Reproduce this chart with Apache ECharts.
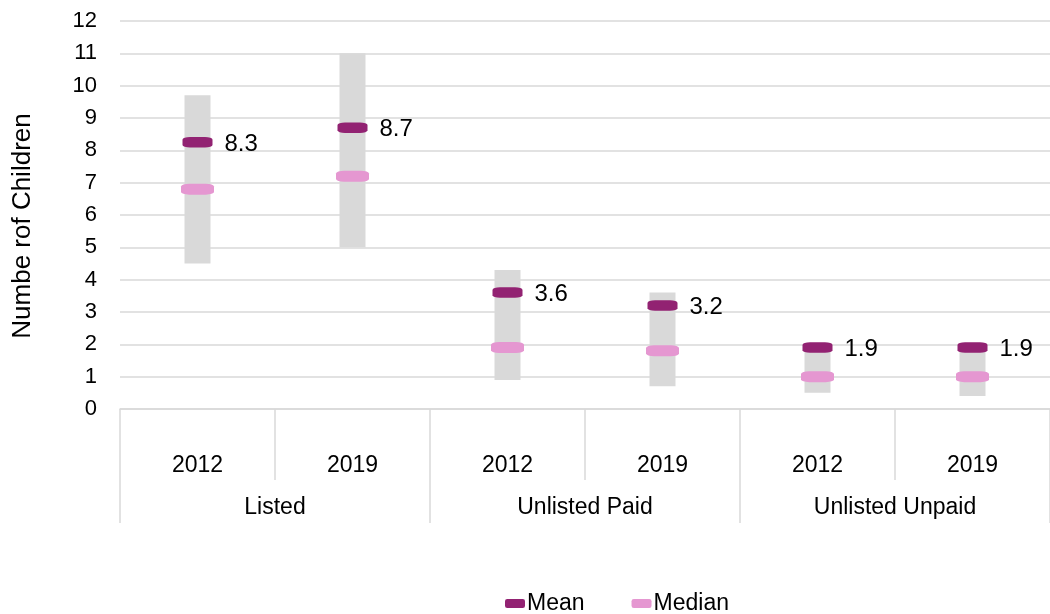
<!DOCTYPE html>
<html>
<head>
<meta charset="utf-8">
<script src="https://cdn.jsdelivr.net/npm/echarts@6/dist/echarts.min.js"></script>
<style>
  html, body { margin: 0; padding: 0; background: #fff; }
  #chart { width: 1050px; height: 614px; }
</style>
</head>
<body>
<div id="chart"></div>
<script>
const years = ['2012', '2019', '2012', '2019', '2012', '2019'];
const groups = ['Listed', 'Unlisted Paid', 'Unlisted Unpaid'];
const rangeLow = [4.5, 5.0, 0.9, 0.7, 0.5, 0.4];
const rangeHigh = [9.7, 11.0, 4.3, 3.6, 1.9, 1.9];
const meanValues = [8.25, 8.7, 3.6, 3.2, 1.9, 1.9];
const medianValues = [6.8, 7.2, 1.9, 1.8, 1.0, 1.0];

const chart = echarts.init(document.getElementById('chart'));
const font = 'Liberation Sans, Arial, sans-serif';
const lineGrey = '#d9d9d9';

const rangeSpan = rangeHigh.map((h, i) => +(h - rangeLow[i]).toFixed(2));

const option = {
  animation: false,
  textStyle: { fontFamily: font },
  grid: { left: 120, right: -7, top: 21, bottom: 205 },
  legend: {
    data: ['Mean', 'Median'],
    top: 587,
    left: 500,
    icon: 'roundRect',
    itemWidth: 20,
    itemHeight: 9,
    itemGap: 47,
    textStyle: { fontSize: 23, color: '#000', fontFamily: font, padding: [0, 0, 0, -3] }
  },
  xAxis: [
    {
      type: 'category',
      data: years,
      position: 'bottom',
      axisLine: { lineStyle: { color: lineGrey, width: 1.5 } },
      axisTick: { show: true, length: 71, interval: 0, lineStyle: { color: lineGrey, width: 1.5 } },
      axisLabel: { margin: 45, fontSize: 23, color: '#000', fontFamily: font, interval: 0 }
    },
    {
      type: 'category',
      data: groups,
      position: 'bottom',
      axisLine: { show: false },
      axisTick: { show: true, length: 114, interval: 0, lineStyle: { color: lineGrey, width: 1.5 } },
      axisLabel: { margin: 87, fontSize: 23, color: '#000', fontFamily: font, interval: 0 }
    }
  ],
  yAxis: {
    type: 'value',
    min: 0,
    max: 12,
    interval: 1,
    name: 'Numbe rof Children',
    nameLocation: 'middle',
    nameRotate: 90,
    nameGap: 84,
    nameTextStyle: { fontSize: 26, color: '#000', fontFamily: font, padding: [0, 22, 0, 0] },
    axisLine: { show: false },
    axisTick: { show: false },
    axisLabel: { margin: 23, fontSize: 22, color: '#000', fontFamily: font },
    splitLine: { lineStyle: { color: lineGrey, width: 1.5 } }
  },
  series: [
    {
      type: 'bar',
      stack: 'range',
      barWidth: 26,
      data: rangeLow,
      itemStyle: { color: 'transparent' },
      silent: true
    },
    {
      type: 'bar',
      stack: 'range',
      barWidth: 26,
      data: rangeSpan,
      itemStyle: { color: '#d9d9d9' },
      silent: true
    },
    {
      name: 'Median',
      type: 'scatter',
      data: medianValues,
      symbol: 'roundRect',
      symbolSize: [33, 11],
      itemStyle: { color: '#e597d1', opacity: 1 }
    },
    {
      name: 'Mean',
      type: 'scatter',
      data: meanValues,
      symbol: 'roundRect',
      symbolSize: [30, 10.5],
      itemStyle: { color: '#922272', opacity: 1 },
      label: {
        show: true,
        position: 'right',
        distance: 12,
        fontSize: 24,
        color: '#000',
        fontFamily: font,
        offset: [0, 2],
        formatter: p => p.value.toFixed(1)
      }
    }
  ]
};

chart.setOption(option);
</script>
</body>
</html>
